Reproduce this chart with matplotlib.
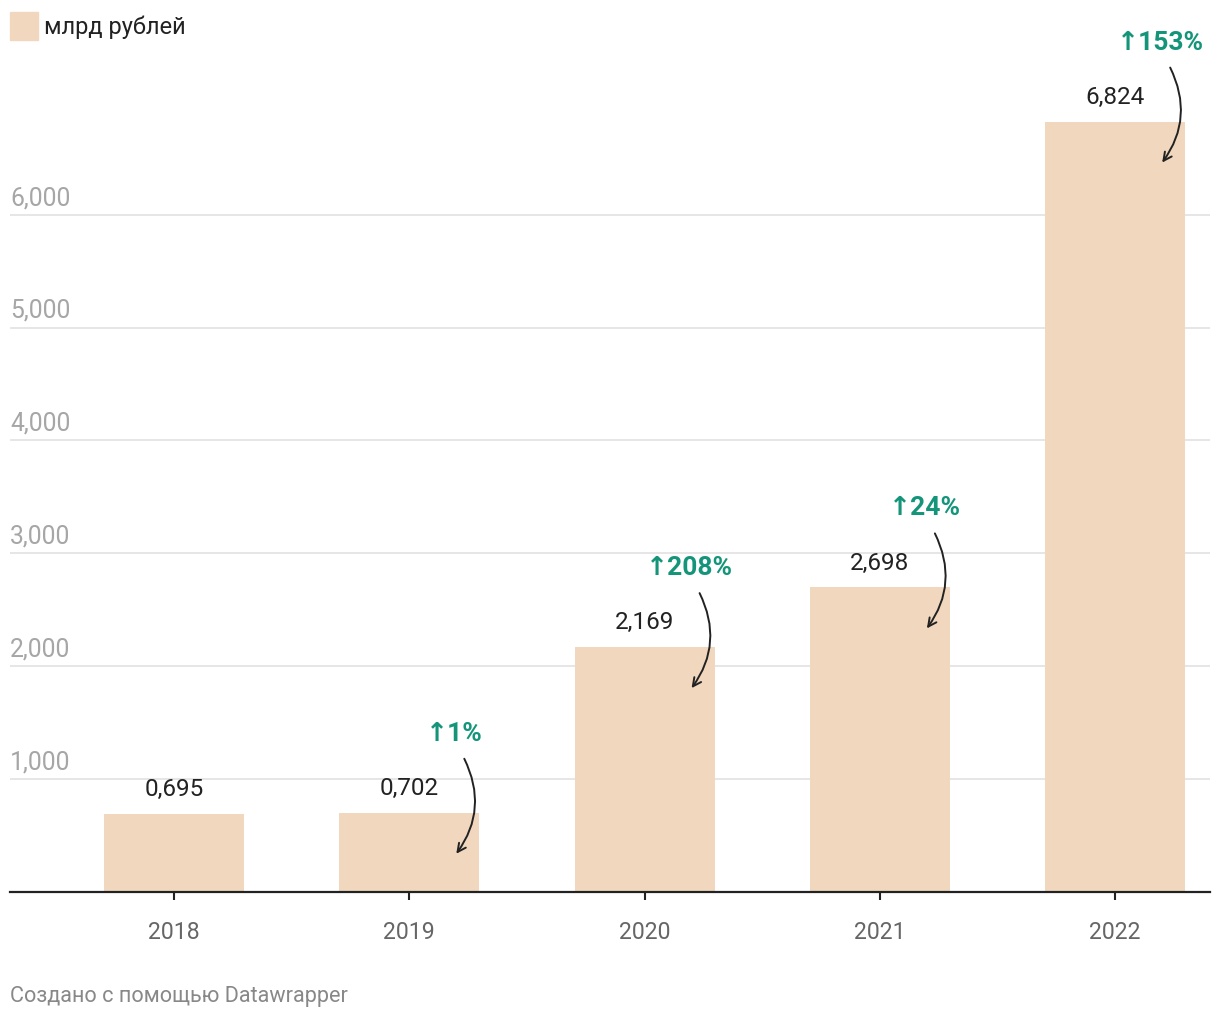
import numpy as np
import matplotlib
matplotlib.use("Agg")
import matplotlib.pyplot as plt
import matplotlib.transforms as mtransforms

plt.rcParams['font.family'] = ['Roboto', 'DejaVu Sans']

# data
years = ['2018', '2019', '2020', '2021', '2022']
values = [695, 702, 2169, 2698, 6824]
value_labels = ['0,695', '0,702', '2,169', '2,698', '6,824']
growth = [None, '↑1%', '↑208%', '↑24%', '↑153%']
yticks = [1000, 2000, 3000, 4000, 5000, 6000]
ytick_labels = ['1,000', '2,000', '3,000', '4,000', '5,000', '6,000']

bar_color = '#f0d7bd'
green = '#14957a'

fig = plt.figure(figsize=(12.2, 10.2), dpi=100)
ax = fig.add_axes([10/1220, (1020-893)/1020, 1200/1220, 0.7748])

x = np.arange(len(years))
ax.bar(x, values, width=0.595, color=bar_color, zorder=2, label='млрд рублей')

ax.set_xlim(-0.697, 4.403)
ax.set_ylim(0, 7000)

# grid lines with labels sitting above them
for t, lab in zip(yticks, ytick_labels):
    ax.axhline(t, color='#e2e2e2', lw=1.2, zorder=1)
    ax.annotate(lab, xy=(0, t), xycoords=('axes fraction', 'data'),
                xytext=(0, 4), textcoords='offset points',
                ha='left', va='bottom', fontsize=17.8, color='#a6a6a6')

ax.set_yticks([])
for s in ['left', 'right', 'top']:
    ax.spines[s].set_visible(False)
ax.spines['bottom'].set_color('#222222')
ax.spines['bottom'].set_linewidth(1.6)
ax.spines['bottom'].set_zorder(3)

ax.set_xticks(x)
ax.set_xticklabels(years, fontsize=16.6, color='#666666')
ax.tick_params(axis='x', length=6, width=1.5, color='#222222', pad=14)

# value labels
for xi, v, lab in zip(x, values, value_labels):
    ax.annotate(lab, xy=(xi, v), xytext=(0, 10), textcoords='offset points',
                ha='center', va='bottom', fontsize=17.5, color='#222222')

# growth annotations with curved arrows
px = 0.72
for xi, v, g in zip(x, values, growth):
    if g is None:
        continue
    ax.annotate(g, xy=(xi, v), xytext=(45*px, 80*px), textcoords='offset points',
                ha='center', va='center', fontsize=19, fontweight='bold', color=green)
    head = ax.transData + mtransforms.ScaledTranslation(47/100, -41/100, fig.dpi_scale_trans)
    ax.annotate('', xy=(xi, v), xycoords=head,
                xytext=(8*px, 95*px), textcoords='offset points',
                arrowprops=dict(arrowstyle='->,head_length=0.6,head_width=0.3',
                                color='#222222', lw=1.4,
                                connectionstyle='arc3,rad=-0.3',
                                shrinkA=0, shrinkB=0),
                zorder=4)

# legend
fig.patches.append(plt.Rectangle((10/1220, 1-41/1020), 28/1220, 28/1020,
                                 transform=fig.transFigure, color=bar_color))
fig.text(44/1220, 1-27/1020, 'млрд рублей', fontsize=17, color='#222222',
         ha='left', va='center')

fig.text(10/1220, 1-997/1020, 'Создано с помощью Datawrapper', fontsize=15.6,
         color='#888888', ha='left', va='center')

fig.savefig('out.png', dpi=100)
